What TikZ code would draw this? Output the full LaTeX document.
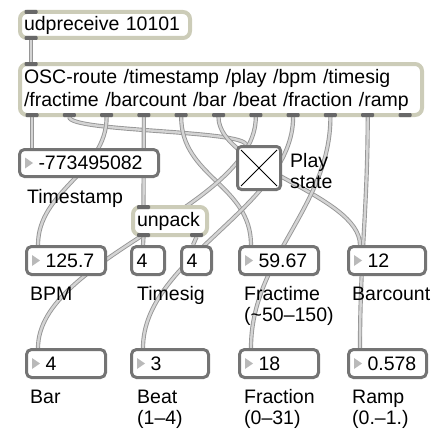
\documentclass[tikz,border=0pt]{standalone}
\usepackage{fontspec}
\setmainfont{Liberation Sans}
\usetikzlibrary{positioning, backgrounds}

\definecolor{objedge}{RGB}{204,204,184}
\definecolor{numedge}{RGB}{116,116,116}
\definecolor{tabgray}{RGB}{104,104,104}
\definecolor{cableedge}{RGB}{150,150,150}
\definecolor{cablefill}{RGB}{212,212,212}
\definecolor{trigray}{RGB}{185,185,185}

\begin{document}
\begin{tikzpicture}[x=1pt, y=-1pt, every node/.style={font=\fontsize{19.5pt}{21pt}\selectfont}]

    % Define block styles
    \tikzstyle{object} = [rectangle, rounded corners=7pt, draw=objedge, line width=4pt, fill=white, anchor=north west, inner xsep=4pt, inner ysep=0pt, align=left]
    \tikzstyle{numbox} = [rectangle, rounded corners=5pt, draw=numedge, line width=3pt, fill=white, anchor=north west, minimum height=28pt, inner xsep=5pt, inner ysep=0pt, align=left]
    \tikzstyle{toggle} = [rectangle, rounded corners=4pt, draw=numedge, line width=3pt, fill=white, anchor=north west, minimum size=43pt]
    \tikzstyle{comment} = [anchor=base west, inner sep=0pt, align=left]
    \tikzstyle{tab} = [fill=tabgray, rounded corners=1pt]
    \tikzstyle{tri} = [fill=trigray]
    \tikzstyle{cable} = [draw=cableedge, double=cablefill, line width=0.9pt, double distance=2.4pt]

    \useasboundingbox (0,0) rectangle (433,428);

    % Place objects
    \node (udp) [object, text width=162pt, minimum height=26pt] at (18,10) {udpreceive 10101};
    \node (osc) [object, text width=394pt, minimum height=51pt] at (18,62) {OSC-route /timestamp /play /bpm /timesig\\[2pt]/fractime /barcount /bar /beat /fraction /ramp};
    \node (unp) [object, text width=66pt, minimum height=28pt] at (131,205) {unpack};
    \node (tgl) [toggle] at (236,145) {};

    % Place number boxes
    \node (stamp) [numbox, text width=129pt, minimum height=27pt] at (18,148) {\hspace*{14pt}-773495082};
    \node (bpm) [numbox, text width=69pt] at (25,245) {\hspace*{14pt}125.7};
    \node (sig1) [numbox, text width=23pt] at (130,245) {4};
    \node (sig2) [numbox, text width=20pt] at (180,245) {4};
    \node (frt) [numbox, text width=69pt] at (238,245) {\hspace*{14pt}59.67};
    \node (bcnt) [numbox, text width=67pt] at (347,245) {\hspace*{14pt}12};
    \node (bar) [numbox, text width=69pt] at (25,348) {\hspace*{14pt}4};
    \node (beat) [numbox, text width=67pt] at (130,348) {\hspace*{14pt}3};
    \node (frac) [numbox, text width=69pt] at (238,348) {\hspace*{14pt}18};
    \node (ramp) [numbox, text width=68pt] at (347,348) {\hspace*{14pt}0.578};

    % Place comments (base = last line)
    \node (stamplbl) [comment] at (27,203) {Timestamp};
    \node (playlbl) [comment] at (290,188) {Play\\state};
    \node (bpmlbl) [comment] at (30,300) {BPM};
    \node (siglbl) [comment] at (137,300) {Timesig};
    \node (frtlbl) [comment] at (244,321) {Fractime\\(\textasciitilde50–150)};
    \node (bcntlbl) [comment] at (352,300) {Barcount};
    \node (barlbl) [comment] at (30,403) {Bar};
    \node (beatlbl) [comment] at (137,424) {Beat\\(1–4)};
    \node (fraclbl) [comment] at (244,424) {Fraction\\(0–31)};
    \node (ramplbl) [comment] at (352,424) {Ramp\\(0.–1.)};

    % Inlets and outlets
    \fill[tab] ([xshift=6.5pt]udp.north west) rectangle ++(13,4);
    \fill[tab] ([xshift=6.5pt]udp.south west) rectangle ++(13,-4);
    \fill[tab] ([xshift=6.5pt]osc.north west) rectangle ++(13,4);
    \foreach \i in {0,...,10} {
        \coordinate (out\i) at ([xshift={(14+\i*37.3)*1pt}]osc.south west);
        \fill[tab] ([xshift=-6.5pt]out\i) rectangle ++(13,-4);
    }
    \fill[tab] ([xshift=6pt]unp.north west) rectangle ++(13,4);
    \fill[tab] ([xshift=6pt]unp.south west) rectangle ++(13,-4);
    \fill[tab] ([xshift=-19pt]unp.south east) rectangle ++(13,-4);

    % Number box triangles and toggle cross
    \foreach \n in {stamp,bpm,frt,bcnt,bar,beat,frac,ramp}
        \fill[tri] ([xshift=7pt]\n.west) ++(0,-5.5) -- ++(8,5.5) -- ++(-8,5.5) -- cycle;
    \draw[line width=1pt] ([shift={(5,5)}]tgl.north west) -- ([shift={(-5,-5)}]tgl.south east);
    \draw[line width=1pt] ([shift={(-5,5)}]tgl.north east) -- ([shift={(5,-5)}]tgl.south west);

    % Draw cables
    \begin{scope}[on background layer]
    \draw[cable] ([xshift=13pt]udp.south west) -- ([xshift=13pt]osc.north west);
    \draw[cable] (out0) -- ([xshift=14pt]stamp.north west);
    \draw[cable] (out1) .. controls +(0,15) and +(0,-15) .. ([xshift=10pt]tgl.north west);
    \draw[cable] (out2) .. controls +(0,55) and +(0,-55) .. ([xshift=13pt]bpm.north west);
    \draw[cable] (out3) -- ([xshift=12.5pt]unp.north west);
    \draw[cable] (out4) .. controls +(0,60) and +(0,-60) .. ([xshift=13pt]frt.north west);
    \draw[cable] (out5) .. controls +(0,50) and +(0,-50) .. ([xshift=13pt]bcnt.north west);
    \draw[cable] (out6) .. controls +(0,90) and +(0,-90) .. ([xshift=13pt]bar.north west);
    \draw[cable] (out7) .. controls +(0,90) and +(0,-90) .. ([xshift=13pt]beat.north west);
    \draw[cable] (out8) .. controls +(0,90) and +(0,-90) .. ([xshift=13pt]frac.north west);
    \draw[cable] (out9) .. controls +(0,90) and +(0,-90) .. ([xshift=13pt]ramp.north west);
    \draw[cable] ([xshift=12.5pt]unp.south west) -- ([xshift=13pt]sig1.north west);
    \draw[cable] ([xshift=-12.5pt]unp.south east) -- ([xshift=13pt]sig2.north west);
    \end{scope}

\end{tikzpicture}
\end{document}
